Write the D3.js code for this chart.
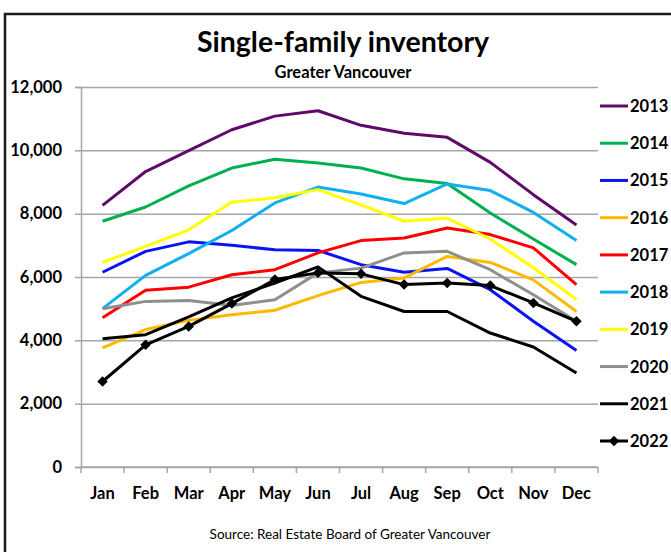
<!DOCTYPE html>
<html>
<head>
<meta charset="utf-8">
<script src="https://cdn.jsdelivr.net/npm/d3@7"></script>
<style>
  body { margin: 0; background: #fff; }
  text { font-family: Lato, "Open Sans", sans-serif; fill: #000; }
  .tick-label { font-weight: bold; font-size: 16.5px; }
  .legend-text { font-weight: bold; font-size: 16.5px; }
</style>
</head>
<body>
<div id="chart"></div>
<script>
const months = ['Jan', 'Feb', 'Mar', 'Apr', 'May', 'Jun', 'Jul', 'Aug', 'Sep', 'Oct', 'Nov', 'Dec'];
const yTicks = [0, 2000, 4000, 6000, 8000, 10000, 12000];
const years = ['2013', '2014', '2015', '2016', '2017', '2018', '2019', '2020', '2021', '2022'];
const colors = ['#5f0a68', '#00b050', '#0a14f0', '#ffb900', '#ff0000', '#10b0f0', '#ffff00', '#8f8f8f', '#000000', '#000000'];

const v2013 = [8260, 9330, 9990, 10650, 11080, 11250, 10790, 10540, 10410, 9620, 8600, 7640];
const v2014 = [7760, 8210, 8880, 9440, 9720, 9600, 9440, 9100, 8950, 8020, 7200, 6390];
const v2015 = [6150, 6810, 7110, 7000, 6860, 6840, 6390, 6150, 6270, 5600, 4600, 3680];
const v2016 = [3760, 4340, 4630, 4810, 4950, 5410, 5830, 5970, 6650, 6460, 5910, 4910];
const v2017 = [4710, 5580, 5680, 6070, 6230, 6760, 7150, 7230, 7550, 7340, 6920, 5760];
const v2018 = [5000, 6050, 6740, 7470, 8340, 8840, 8620, 8320, 8940, 8730, 8040, 7150];
const v2019 = [6460, 6970, 7490, 8360, 8500, 8760, 8280, 7760, 7860, 7200, 6290, 5290];
const v2020 = [5000, 5230, 5260, 5100, 5280, 6130, 6280, 6760, 6810, 6230, 5440, 4600];
const v2021 = [4050, 4180, 4740, 5340, 5810, 6320, 5390, 4910, 4910, 4230, 3790, 2970];
const v2022 = [2700, 3860, 4440, 5160, 5920, 6130, 6100, 5760, 5810, 5730, 5180, 4600];
const seriesValues = [v2013, v2014, v2015, v2016, v2017, v2018, v2019, v2020, v2021, v2022];

const W = 671, H = 552;
const margin = { top: 87, right: 73, bottom: 85, left: 81 };
const width = W - margin.left - margin.right,
      height = H - margin.top - margin.bottom;

const svg = d3.select('#chart').append('svg')
  .attr('width', W)
  .attr('height', H);

// outer frame of the pasted chart
svg.append('path')
  .attr('d', 'M5,' + H + ' V14 H' + W)
  .attr('fill', 'none')
  .attr('stroke', '#1a1a1a')
  .attr('stroke-width', 2.5);

const x = d3.scaleBand().domain(months).range([0, width]);
const y = d3.scaleLinear().domain([0, 12000]).range([height, 0]);

const g = svg.append('g')
  .attr('transform', 'translate(' + margin.left + ',' + margin.top + ')');

// gridlines
g.append('g')
  .call(d3.axisLeft(y).tickValues(yTicks).tickSize(-width).tickFormat(''))
  .call(a => a.select('.domain').remove())
  .call(a => a.selectAll('line').attr('stroke', '#a6a6a6').attr('stroke-width', 1.5));

// y axis
g.append('g')
  .call(d3.axisLeft(y).tickValues(yTicks).tickSize(6).tickPadding(13).tickFormat(d3.format(',')))
  .call(a => a.select('.domain').attr('stroke', '#a6a6a6').attr('stroke-width', 1.5))
  .call(a => a.selectAll('line').attr('stroke', '#a6a6a6').attr('stroke-width', 1.5))
  .call(a => a.selectAll('text').attr('class', 'tick-label').attr('font-family', null).attr('font-size', null));

// x axis with boundary ticks
const xAxisG = g.append('g').attr('transform', 'translate(0,' + height + ')');
xAxisG.append('line')
  .attr('x1', 0).attr('x2', width)
  .attr('stroke', '#a6a6a6').attr('stroke-width', 1.5);
xAxisG.selectAll('line.bt')
  .data(d3.range(months.length + 1))
  .enter().append('line')
  .attr('class', 'bt')
  .attr('x1', i => i * x.step()).attr('x2', i => i * x.step())
  .attr('y1', 0).attr('y2', 6)
  .attr('stroke', '#a6a6a6').attr('stroke-width', 1.5);
xAxisG.selectAll('text')
  .data(months)
  .enter().append('text')
  .attr('class', 'tick-label')
  .attr('x', d => x(d) + x.bandwidth() / 2)
  .attr('y', 32)
  .attr('text-anchor', 'middle')
  .text(d => d);

// series lines
const line = d3.line()
  .x((d, i) => x(months[i]) + x.bandwidth() / 2)
  .y(d => y(d));

const diamond = d3.symbol().type(d3.symbolDiamond2).size(70);

seriesValues.forEach((vals, s) => {
  g.append('path')
    .datum(vals)
    .attr('d', line)
    .attr('fill', 'none')
    .attr('stroke', colors[s])
    .attr('stroke-width', 3)
    .attr('stroke-linejoin', 'round');
});

g.selectAll('path.marker')
  .data(v2022)
  .enter().append('path')
  .attr('class', 'marker')
  .attr('d', diamond)
  .attr('transform', (d, i) => 'translate(' + (x(months[i]) + x.bandwidth() / 2) + ',' + y(d) + ')')
  .attr('fill', '#000');

// titles
svg.append('text')
  .attr('x', 343).attr('y', 52)
  .attr('text-anchor', 'middle')
  .attr('font-size', 28.5)
  .attr('font-weight', 'bold')
  .text('Single-family inventory');
svg.append('text')
  .attr('x', 343).attr('y', 78)
  .attr('text-anchor', 'middle')
  .attr('font-size', 16.5)
  .attr('font-weight', 'bold')
  .text('Greater Vancouver');
svg.append('text')
  .attr('x', 350).attr('y', 539)
  .attr('text-anchor', 'middle')
  .attr('font-size', 13.5)
  .text('Source: Real Estate Board of Greater Vancouver');

// legend
const legend = svg.append('g').attr('class', 'legend');
const legendY = d3.scalePoint().domain(years).range([106, 441]);
years.forEach((yr, s) => {
  const ly = legendY(yr);
  legend.append('line')
    .attr('x1', 600).attr('x2', 628)
    .attr('y1', ly).attr('y2', ly)
    .attr('stroke', colors[s])
    .attr('stroke-width', 3);
  if (yr === '2022') {
    legend.append('path')
      .attr('d', diamond)
      .attr('transform', 'translate(614,' + ly + ')')
      .attr('fill', '#000');
  }
  legend.append('text')
    .attr('class', 'legend-text')
    .attr('x', 630).attr('y', ly + 6)
    .text(yr);
});
</script>
</body>
</html>
